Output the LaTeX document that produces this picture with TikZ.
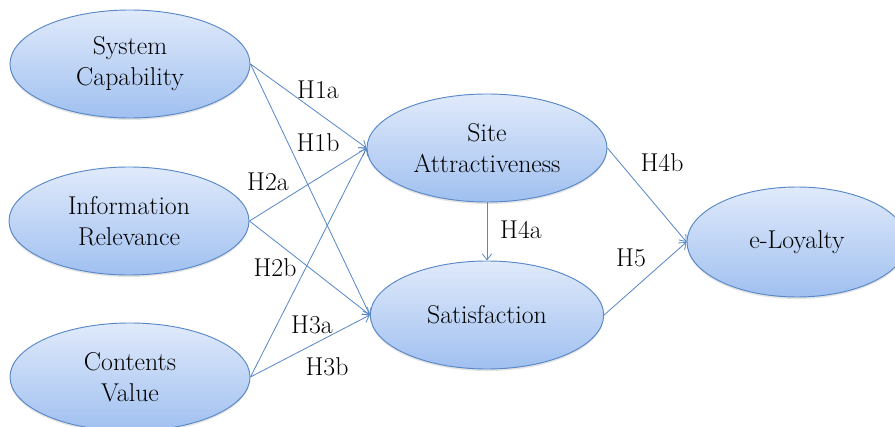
\documentclass[tikz,border=0pt]{standalone}
\usetikzlibrary{arrows.meta,shapes.geometric,shadings,shadows}
\definecolor{rimblue}{RGB}{88,136,200}
\definecolor{toplight}{RGB}{224,234,251}
\definecolor{botdeep}{RGB}{160,192,240}
\tikzset{>={Straight Barb[length=1.8mm,width=2.8mm]},every node/.style={font=\fontsize{22}{26.5}\selectfont},
construct/.style={ellipse,draw=rimblue,line width=.8pt,top color=toplight,bottom color=botdeep,minimum width=7.2cm,minimum height=3.24cm,inner sep=0pt,align=center,
  drop shadow={shadow xshift=0pt,shadow yshift=-.6mm,opacity=.18,fill=black!60}},
link/.style={draw=rimblue,line width=.7pt,->}}

\begin{document}
\begin{tikzpicture}[x=.03cm,y=-.03cm]
\useasboundingbox (0,0) rectangle (895,427);
\node[construct] (syscap) at (130,64) {System\\Capability};
\node[construct] (inforel) at (129,221) {Information\\Relevance};
\node[construct] (contval) at (130,377) {Contents\\Value};
\node[construct] (siteatt) at (487,148) {Site\\Attractiveness};
\node[construct,minimum width=7cm] (satis) at (487,315) {Satisfaction};
\node[construct,minimum width=6.6cm,minimum height=3.3cm] (eloyal) at (797,242) {e-Loyalty};
\draw[link] (syscap.east) -- (siteatt.west);\draw[link] (syscap.east) -- (satis.west);
\draw[link] (inforel.east) -- (siteatt.west);\draw[link] (inforel.east) -- (satis.west);
\draw[link] (contval.east) -- (siteatt.west);\draw[link] (contval.east) -- (satis.west);
\draw[link] (siteatt.south) -- (satis.north);
\draw[link] (siteatt.east) -- (eloyal.west);\draw[link] (satis.east) -- (eloyal.west);
\node (h1a) at (318,90) {H1a};\node (h1b) at (318,143) {H1b};
\node (h2a) at (268,182) {H2a};\node (h2b) at (275,268) {H2b};
\node (h3a) at (312,325) {H3a};\node (h3b) at (327,367) {H3b};
\node (h4a) at (521,230) {H4a};\node (h4b) at (662,163) {H4b};
\node (h5) at (631,258) {H5};
\end{tikzpicture}
\end{document}
